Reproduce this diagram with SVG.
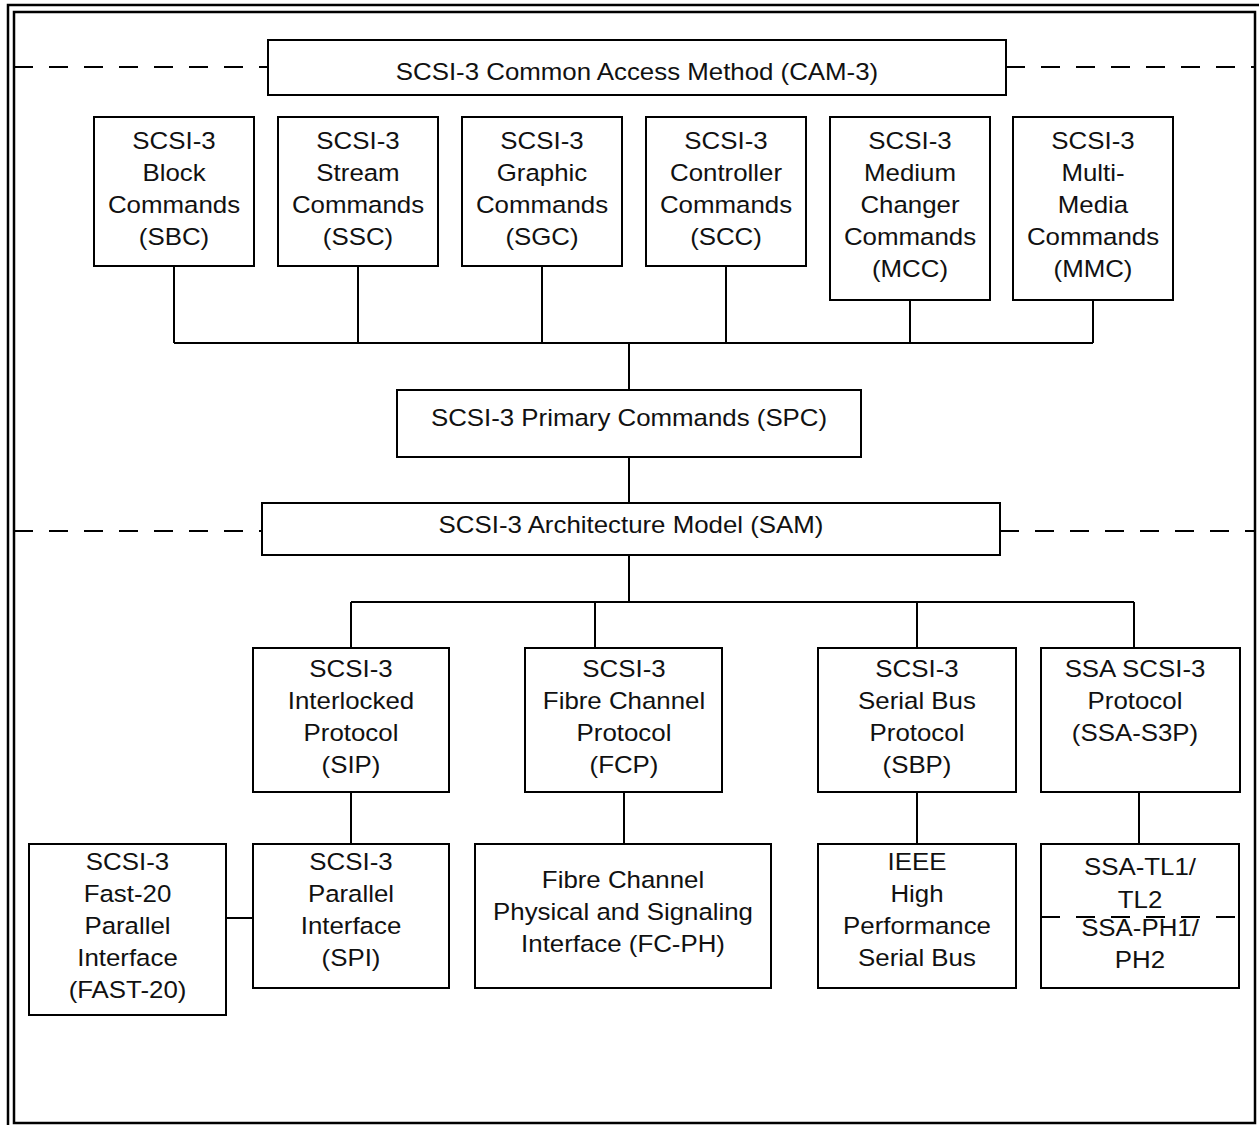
<svg xmlns="http://www.w3.org/2000/svg" width="1259" height="1125" viewBox="0 0 1259 1125">
<style>
.b{fill:#fff;stroke:#000;stroke-width:2}
.f{fill:none;stroke:#000;stroke-width:2.5}
.c{fill:none;stroke:#000;stroke-width:2}
.d{fill:none;stroke:#000;stroke-width:2;stroke-dasharray:19 16}
text{font-family:"Liberation Sans",Arial,sans-serif;font-size:23.5px;text-anchor:middle;fill:#111}
</style>
<rect width="1259" height="1125" fill="#fff"/>
<g id="frame">
<rect class="f" x="8" y="5" width="1262" height="1135"/>
<rect class="f" x="14" y="12" width="1241" height="1111"/>
</g>
<g id="connectors">
<path class="d" d="M14 67H268M1006 67H1255"/>
<path class="d" d="M14 531H262M1000 531H1255"/>
<path class="c" d="M174 266V343M358 266V343M542 266V343M726 266V343M910 300V343M1093 300V343M174 343H1093M629 343V390"/>
<path class="c" d="M629 457V503M629 555V602M351 602H1134M351 602V648M595 602V648M917 602V648M1134 602V648"/>
<path class="c" d="M351 792V843M624 792V843M917 792V843M1139 792V843M226 918H253"/>
</g>
<g id="cam3"><rect class="b" x="268" y="40" width="738" height="55"/>
<text transform="translate(637 0) scale(1.1 1)" y="80">SCSI-3 Common Access Method (CAM-3)</text></g>
<g id="sbc"><rect class="b" x="94" y="117" width="160" height="149"/>
<text transform="translate(174 0) scale(1.1 1)"><tspan x="0" y="149">SCSI-3</tspan><tspan x="0" y="181">Block</tspan><tspan x="0" y="213">Commands</tspan><tspan x="0" y="245">(SBC)</tspan></text></g>
<g id="ssc"><rect class="b" x="278" y="117" width="160" height="149"/>
<text transform="translate(358 0) scale(1.1 1)"><tspan x="0" y="149">SCSI-3</tspan><tspan x="0" y="181">Stream</tspan><tspan x="0" y="213">Commands</tspan><tspan x="0" y="245">(SSC)</tspan></text></g>
<g id="sgc"><rect class="b" x="462" y="117" width="160" height="149"/>
<text transform="translate(542 0) scale(1.1 1)"><tspan x="0" y="149">SCSI-3</tspan><tspan x="0" y="181">Graphic</tspan><tspan x="0" y="213">Commands</tspan><tspan x="0" y="245">(SGC)</tspan></text></g>
<g id="scc"><rect class="b" x="646" y="117" width="160" height="149"/>
<text transform="translate(726 0) scale(1.1 1)"><tspan x="0" y="149">SCSI-3</tspan><tspan x="0" y="181">Controller</tspan><tspan x="0" y="213">Commands</tspan><tspan x="0" y="245">(SCC)</tspan></text></g>
<g id="mcc"><rect class="b" x="830" y="117" width="160" height="183"/>
<text transform="translate(910 0) scale(1.1 1)"><tspan x="0" y="149">SCSI-3</tspan><tspan x="0" y="181">Medium</tspan><tspan x="0" y="213">Changer</tspan><tspan x="0" y="245">Commands</tspan><tspan x="0" y="277">(MCC)</tspan></text></g>
<g id="mmc"><rect class="b" x="1013" y="117" width="160" height="183"/>
<text transform="translate(1093 0) scale(1.1 1)"><tspan x="0" y="149">SCSI-3</tspan><tspan x="0" y="181">Multi-</tspan><tspan x="0" y="213">Media</tspan><tspan x="0" y="245">Commands</tspan><tspan x="0" y="277">(MMC)</tspan></text></g>
<g id="spc"><rect class="b" x="397" y="390" width="464" height="67"/>
<text transform="translate(629 0) scale(1.1 1)" y="426">SCSI-3 Primary Commands (SPC)</text></g>
<g id="sam"><rect class="b" x="262" y="503" width="738" height="52"/>
<text transform="translate(631 0) scale(1.1 1)" y="533">SCSI-3 Architecture Model (SAM)</text></g>
<g id="sip"><rect class="b" x="253" y="648" width="196" height="144"/>
<text transform="translate(351 0) scale(1.1 1)"><tspan x="0" y="677">SCSI-3</tspan><tspan x="0" y="709">Interlocked</tspan><tspan x="0" y="741">Protocol</tspan><tspan x="0" y="773">(SIP)</tspan></text></g>
<g id="fcp"><rect class="b" x="525" y="648" width="197" height="144"/>
<text transform="translate(624 0) scale(1.1 1)"><tspan x="0" y="677">SCSI-3</tspan><tspan x="0" y="709">Fibre Channel</tspan><tspan x="0" y="741">Protocol</tspan><tspan x="0" y="773">(FCP)</tspan></text></g>
<g id="sbp"><rect class="b" x="818" y="648" width="198" height="144"/>
<text transform="translate(917 0) scale(1.1 1)"><tspan x="0" y="677">SCSI-3</tspan><tspan x="0" y="709">Serial Bus</tspan><tspan x="0" y="741">Protocol</tspan><tspan x="0" y="773">(SBP)</tspan></text></g>
<g id="ssas3p"><rect class="b" x="1041" y="648" width="199" height="144"/>
<text transform="translate(1135 0) scale(1.1 1)"><tspan x="0" y="677">SSA SCSI-3</tspan><tspan x="0" y="709">Protocol</tspan><tspan x="0" y="741">(SSA-S3P)</tspan></text></g>
<g id="fast20"><rect class="b" x="29" y="844" width="197" height="171"/>
<text transform="translate(127.5 0) scale(1.1 1)"><tspan x="0" y="870">SCSI-3</tspan><tspan x="0" y="902">Fast-20</tspan><tspan x="0" y="934">Parallel</tspan><tspan x="0" y="966">Interface</tspan><tspan x="0" y="998">(FAST-20)</tspan></text></g>
<g id="spi"><rect class="b" x="253" y="844" width="196" height="144"/>
<text transform="translate(351 0) scale(1.1 1)"><tspan x="0" y="870">SCSI-3</tspan><tspan x="0" y="902">Parallel</tspan><tspan x="0" y="934">Interface</tspan><tspan x="0" y="966">(SPI)</tspan></text></g>
<g id="fcph"><rect class="b" x="475" y="844" width="296" height="144"/>
<text transform="translate(623 0) scale(1.1 1)"><tspan x="0" y="888">Fibre Channel</tspan><tspan x="0" y="920">Physical and Signaling</tspan><tspan x="0" y="952">Interface (FC-PH)</tspan></text></g>
<g id="ieee"><rect class="b" x="818" y="844" width="198" height="144"/>
<text transform="translate(917 0) scale(1.1 1)"><tspan x="0" y="870">IEEE</tspan><tspan x="0" y="902">High</tspan><tspan x="0" y="934">Performance</tspan><tspan x="0" y="966">Serial Bus</tspan></text></g>
<g id="ssatl"><rect class="b" x="1041" y="844" width="198" height="144"/>
<path class="d" d="M1041 917H1239"/>
<text transform="translate(1140 0) scale(1.1 1)"><tspan x="0" y="875">SSA-TL1/</tspan><tspan x="0" y="908">TL2</tspan><tspan x="0" y="936">SSA-PH1/</tspan><tspan x="0" y="968">PH2</tspan></text></g>
</svg>
